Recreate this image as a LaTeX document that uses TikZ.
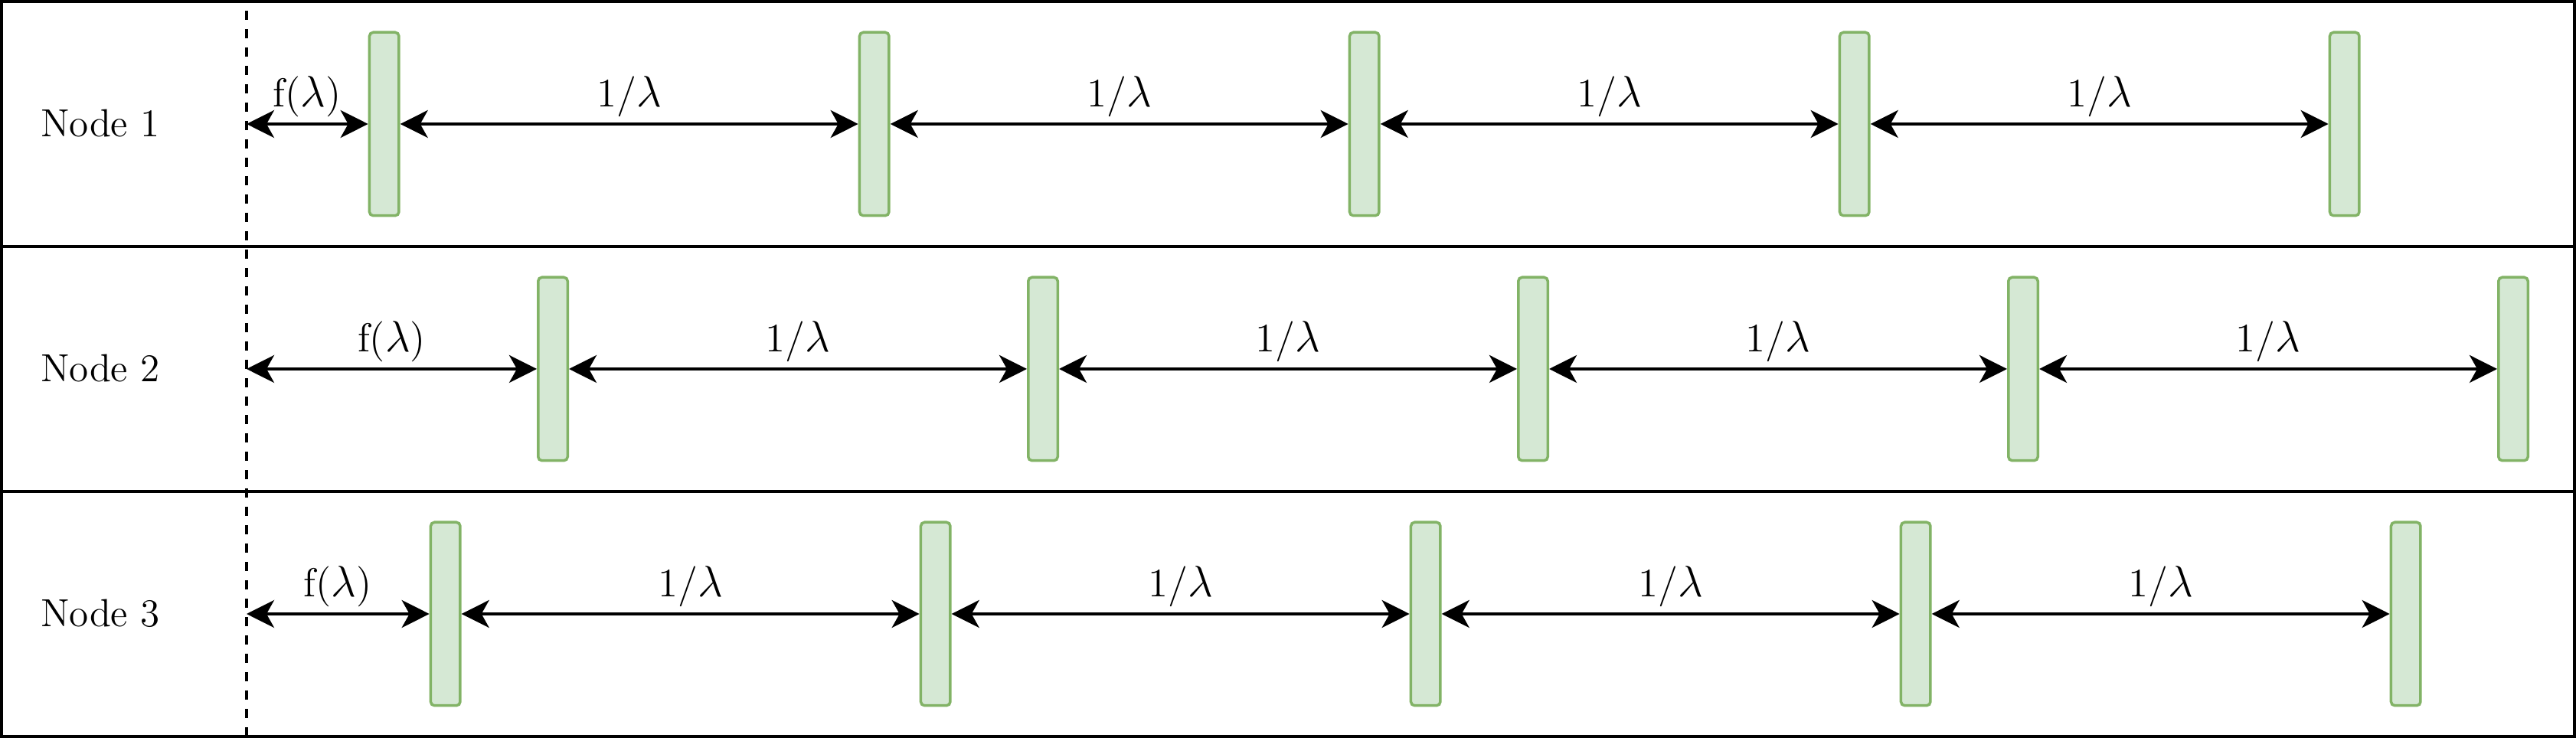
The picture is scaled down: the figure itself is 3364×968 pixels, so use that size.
\documentclass[tikz,border=0pt]{standalone}
\usetikzlibrary{arrows.meta}
\definecolor{barfill}{HTML}{D5E8D4}
\definecolor{barline}{HTML}{82B366}
\begin{document}
\begin{tikzpicture}[x=0.25bp,y=-0.25bp,
  frame/.style={line width=1bp},
  bar/.style={draw=barline, fill=barfill, line width=0.875bp, rounded corners=1.25bp,
    inner sep=0pt, minimum width=9.625bp, minimum height=59.875bp},
  conn/.style={line width=1bp,
    {Stealth[length=9bp,width=9bp,inset=2.5bp]}-{Stealth[length=9bp,width=9bp,inset=2.5bp]}},
  lab/.style={font=\fontsize{13.2bp}{16bp}\selectfont, inner sep=0pt, anchor=base, yshift=5.5bp},
  rowlab/.style={font=\fontsize{12.8bp}{16bp}\selectfont, inner sep=0pt}]
\useasboundingbox (0,0) rectangle (3364,968);
\draw[frame] (2,2) rectangle (3362,962);
\draw[frame] (2,322) -- (3362,322);
\draw[frame] (2,642) -- (3362,642);
\draw[frame, dash pattern=on 3bp off 3bp, dash phase=3bp] (322,2) -- (322,962);
\node[rowlab] (n1) at (131,161) {Node 1};
\node[rowlab] (n2) at (131,481) {Node 2};
\node[rowlab] (n3) at (131,801) {Node 3};
\foreach \r/\xo in {1/501.7, 2/722, 3/581.7} {
  \pgfmathsetmacro\yy{162+320*(\r-1)}
  \coordinate (d\r) at (322,\yy);
  \foreach \i in {1,...,5} {
    \node[bar] (b\r\i) at ({\xo+640*(\i-1)},\yy) {};
  }
  \draw[conn] (d\r) -- (b\r1.west) node[lab, midway] (f\r) {f($\lambda$)};
  \foreach \i/\j in {1/2,2/3,3/4,4/5} {
    \draw[conn] (b\r\i.east) -- (b\r\j.west) node[lab, midway] (l\r\i) {1/$\lambda$};
  }
}
\end{tikzpicture}
\end{document}
